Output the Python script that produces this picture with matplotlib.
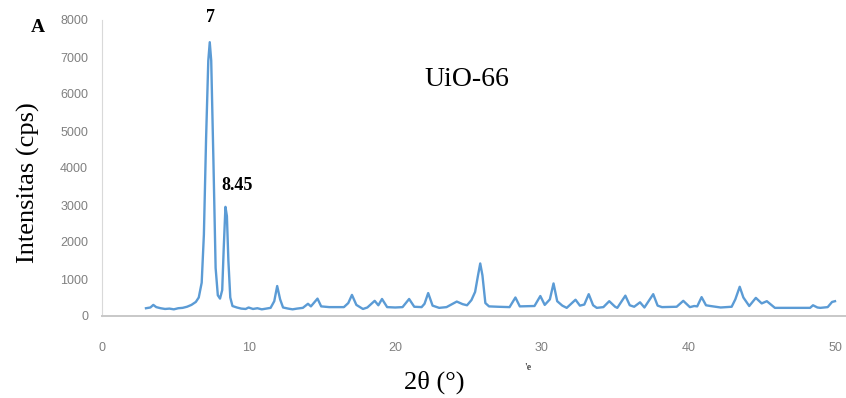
"""XRD pattern of UiO-66 (intensity vs 2theta)."""
import matplotlib
matplotlib.use("Agg")
import matplotlib.pyplot as plt

# 2theta (deg) and intensity (cps)
two_theta = [3.0, 3.3, 3.5, 3.7, 4.0, 4.3, 4.6, 4.9, 5.2, 5.5, 5.8, 6.1, 6.4, 6.6, 6.8,
             6.95, 7.1, 7.25, 7.35, 7.45, 7.6, 7.75, 7.9, 8.05, 8.2, 8.3, 8.42, 8.52,
             8.62, 8.75, 8.9, 9.2, 9.5, 9.8, 10.0, 10.3, 10.6, 10.9, 11.2, 11.5, 11.75,
             11.95, 12.15, 12.35, 12.7, 13.0, 13.3, 13.7, 14.05, 14.25, 14.7, 14.95,
             15.5, 16.5, 16.8, 17.05, 17.35, 17.8, 18.1, 18.6, 18.85, 19.1, 19.45, 20.0,
             20.5, 20.95, 21.3, 21.8, 22.0, 22.25, 22.55, 23.0, 23.5, 24.2, 24.6, 24.9,
             25.2, 25.45, 25.65, 25.8, 25.95, 26.15, 26.4, 27.0, 27.8, 28.2, 28.5, 29.5,
             29.9, 30.2, 30.55, 30.8, 31.05, 31.4, 31.7, 32.3, 32.6, 32.9, 33.2, 33.5,
             33.75, 34.2, 34.6, 35.0, 35.15, 35.7, 36.0, 36.3, 36.7, 37.0, 37.6, 37.9,
             38.2, 39.2, 39.65, 40.1, 40.4, 40.6, 40.9, 41.2, 41.5, 42.2, 42.95, 43.2,
             43.5, 43.75, 44.15, 44.6, 45.0, 45.35, 45.9, 47.0, 48.3, 48.5, 48.8, 49.0,
             49.5, 49.8, 50.0]
intensity = [210, 230, 300, 240, 210, 190, 200, 180, 210, 220, 250, 300, 380, 500, 900,
             2200, 4800, 6900, 7400, 6900, 4200, 1300, 560, 470, 700, 1800, 2950, 2700,
             1500, 500, 270, 230, 200, 190, 230, 190, 210, 180, 200, 220, 400,
             810, 450, 230, 200, 180, 200, 220, 330, 260, 470, 260,
             240, 240, 350, 570, 300, 190, 230, 410, 290, 460, 240, 230,
             240, 460, 250, 240, 330, 620, 280, 220, 240, 390, 320, 290,
             430, 650, 1100, 1420, 1100, 350, 260, 250, 240, 500, 260, 270,
             540, 300, 450, 880, 400, 280, 220, 440, 280, 310, 590, 290,
             220, 240, 400, 250, 220, 550, 290, 250, 370, 230, 590, 280,
             240, 250, 410, 240, 270, 260, 510, 290, 270, 230, 250, 450,
             790, 500, 270, 490, 340, 400, 220, 220, 220, 290, 230, 220,
             240, 380, 400]

peak_labels = ["7", "8.45"]
x_ticks = [0, 10, 20, 30, 40, 50]
y_ticks = [0, 1000, 2000, 3000, 4000, 5000, 6000, 7000, 8000]

serif = "Liberation Serif"
fig = plt.figure(figsize=(8.46, 3.98), dpi=100)
ax = fig.add_axes([102 / 846, 1 - 316 / 398, (846 - 102) / 846, (316 - 20) / 398])
ax.plot(two_theta, intensity, color="#5b9bd5", lw=1.7)
ax.set_xlim(0, 50.75)
ax.set_ylim(0, 8000)
ax.set_xticks(x_ticks)
ax.set_yticks(y_ticks)
for s in ["top", "right"]:
    ax.spines[s].set_visible(False)
ax.spines["left"].set_color("#d9d9d9")
ax.spines["bottom"].set_color("#c8c8c8")
ax.spines["bottom"].set_linewidth(1.4)
ax.tick_params(length=0, labelcolor="#808080", labelsize=9)
ax.tick_params(axis="x", pad=19)
ax.tick_params(axis="y", pad=10)
for lab in ax.get_xticklabels() + ax.get_yticklabels():
    lab.set_family("Liberation Sans")

fig.text(28 / 846, 1 - 183 / 398, "Intensitas (cps)", rotation=90, family=serif,
         fontsize=19, ha="center", va="center")
fig.text(434 / 846, 1 - 382 / 398, "2θ (°)", family=serif, fontsize=19,
         ha="center", va="center")
fig.text(38 / 846, 1 - 28 / 398, "A", family=serif, fontweight="bold", fontsize=14,
         ha="center", va="center")
fig.text(528 / 846, 1 - 367 / 398, "'e", family=serif, fontweight="bold", fontsize=7,
         ha="center", va="center", color="#444444")
fig.text(467 / 846, 1 - 80 / 398, "UiO-66", family=serif, fontsize=20,
         ha="center", va="center")
ax.annotate(peak_labels[0], (7.37, 7400), xytext=(0, 25), textcoords="offset pixels",
            family=serif, fontweight="bold", fontsize=13, ha="center", va="center")
ax.annotate(peak_labels[1], (8.45, 2950), xytext=(11, 21), textcoords="offset pixels",
            family=serif, fontweight="bold", fontsize=13, ha="center", va="center")

fig.savefig("out.png", dpi=100)
